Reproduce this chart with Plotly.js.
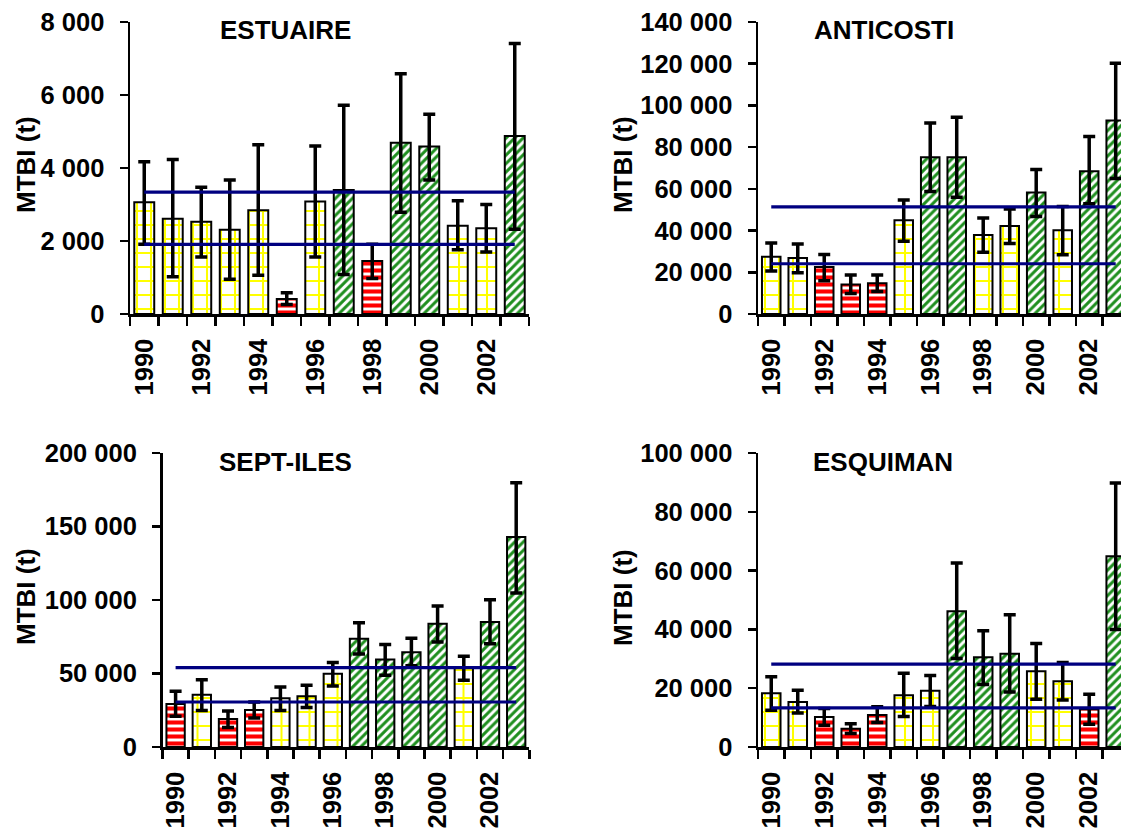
<!DOCTYPE html>
<html>
<head>
<meta charset="utf-8">
<script src="https://cdn.plot.ly/plotly-3.0.1.min.js"></script>
<style>html,body{margin:0;padding:0;background:#fff;}#chart{width:1121px;height:830px;}</style>
</head>
<body>
<div id="chart"></div>
<script>
// ---------- DATA ----------
const years = [1990,1991,1992,1993,1994,1995,1996,1997,1998,1999,2000,2001,2002,2003];
const yearLabels = [1990,1992,1994,1996,1998,2000,2002];

const est_val = [3060,2610,2530,2310,2840,410,3080,3400,1450,4690,4590,2420,2350,4880];
const est_hi  = [4170,4230,3470,3670,4640,580,4600,5720,1910,6580,5470,3100,3000,7410];
const est_lo  = [1910,1020,1560,950,1060,260,1560,1080,970,2790,3670,1760,1700,2320];
const est_cls = ['Y','Y','Y','Y','Y','R','Y','G','R','G','G','Y','Y','G'];
const est_ref = [1910,3340];

const ant_val = [27400,26800,22500,14100,14700,45000,75200,75200,37900,42200,58200,40100,68500,92800];
const ant_hi  = [34100,33600,28500,18700,18700,54700,91600,94300,46000,50300,69300,51500,85100,120200];
const ant_lo  = [20600,19800,15900,9800,10800,34900,58700,56000,29600,33800,46800,28400,52800,65000];
const ant_cls = ['Y','Y','R','R','R','Y','G','G','Y','Y','G','Y','G','G'];
const ant_ref = [24100,51400];

const sep_val = [29300,35600,19000,25200,33100,34500,49900,73700,59600,64400,83900,54000,85000,142900];
const sep_hi  = [37900,45800,24500,30600,40800,42000,57400,84600,69800,73900,95900,61700,100200,179800];
const sep_lo  = [20900,24900,13200,19700,24900,26800,41500,63300,48800,55300,71400,45400,70300,104800];
const sep_cls = ['R','Y','R','R','Y','Y','Y','G','G','G','G','Y','G','G'];
const sep_ref = [30600,54000];

const esq_val = [18300,15300,10200,6200,10900,17600,19100,46200,30500,31700,25800,22400,12800,64900];
const esq_hi  = [23900,19300,13100,7900,13700,25100,24300,62600,39500,45000,35200,28700,17900,89800];
const esq_lo  = [12500,11600,7400,4600,8300,10400,13800,30100,21300,18700,16200,16000,7700,40000];
const esq_cls = ['Y','Y','R','R','R','Y','Y','G','G','G','Y','Y','R','G'];
const esq_ref = [13300,28200];

const titles = ['ESTUAIRE','ANTICOSTI','SEPT-ILES','ESQUIMAN'];
const yTitle = 'MTBI (t)';

// ---------- STYLE ----------
const FONT = '"Liberation Sans", Arial, Helvetica, sans-serif';
const PAT = {
  Y: {shape:'+', fg:'#ffff00', size:14, sol:0.27},
  R: {shape:'-', fg:'#ff0000', size:7,  sol:0.58},
  G: {shape:'/', fg:'#1f8f1f', size:6,  sol:0.5}
};

const panels = [
  {val:est_val, hi:est_hi, lo:est_lo, cls:est_cls, ref:est_ref, ymax:8000,   dtick:2000},
  {val:ant_val, hi:ant_hi, lo:ant_lo, cls:ant_cls, ref:ant_ref, ymax:140000, dtick:20000},
  {val:sep_val, hi:sep_hi, lo:sep_lo, cls:sep_cls, ref:sep_ref, ymax:200000, dtick:50000},
  {val:esq_val, hi:esq_hi, lo:esq_lo, cls:esq_cls, ref:esq_ref, ymax:100000, dtick:20000}
];

const W = 1121, H = 830;
const geom = [
  {l:130,   r:529,  b:314, t:22,  xe:2003.5},
  {l:758,   r:1121, b:314, t:22,  xe:2003.2},
  {l:162.5, r:529.3,b:747, t:453, xe:2003.5},
  {l:758,   r:1121, b:747, t:453, xe:2003.2}
];
const titlePos = [[285,30],[884,30],[285,462],[883,462]];
const yTitlePos = [[26,165],[623,165],[26,597],[623,598]];

const boundaries = years.map(y => y - 0.5).concat([years[years.length-1] + 0.5]);

const traces = [];
const layout = {
  width: W, height: H,
  margin: {l:0, r:0, t:0, b:0},
  showlegend: false,
  paper_bgcolor: '#ffffff',
  plot_bgcolor: 'rgba(0,0,0,0)',
  separators: '. ',
  font: {family: FONT, size: 25, color: '#000', weight: 'bold'},
  annotations: []
};

panels.forEach((p, i) => {
  const n = i + 1;
  const xa = 'x' + (n === 1 ? '' : n), ya = 'y' + (n === 1 ? '' : n);
  const g = geom[i];
  traces.push({
    type: 'bar', x: years, y: p.val, xaxis: xa, yaxis: ya,
    width: 0.7,
    marker: {
      color: '#ffffff',
      line: {color: '#000', width: 2},
      pattern: {
        shape: p.cls.map(c => PAT[c].shape),
        fgcolor: p.cls.map(c => PAT[c].fg),
        bgcolor: '#ffffff',
        size: p.cls.map(c => PAT[c].size),
        solidity: p.cls.map(c => PAT[c].sol),
        fillmode: 'replace'
      }
    },
    error_y: {
      type: 'data', symmetric: false,
      array: p.hi.map((h, k) => h - p.val[k]),
      arrayminus: p.lo.map((l, k) => p.val[k] - l),
      color: '#000', thickness: 3.5, width: 6
    },
    hoverinfo: 'x+y'
  });
  p.ref.forEach(r => {
    traces.push({
      type: 'scatter', mode: 'lines',
      x: [years[0], years[years.length-1]], y: [r, r],
      xaxis: xa, yaxis: ya,
      line: {color: '#000080', width: 3.2},
      hoverinfo: 'y'
    });
  });
  const xKey = 'xaxis' + (n === 1 ? '' : n), yKey = 'yaxis' + (n === 1 ? '' : n);
  layout[xKey] = {
    domain: [g.l / W, g.r / W], anchor: ya,
    range: [years[0] - 0.5, g.xe], type: 'linear',
    showline: true, linecolor: '#000', linewidth: 2.5,
    showgrid: false, zeroline: false,
    tickmode: 'array', tickvals: yearLabels, ticktext: yearLabels.map(String),
    ticks: '', tickangle: -90, ticklabelstandoff: 12,
    tickfont: {family: FONT, size: 25.5, color: '#000', weight: 'bold'},
    minor: {tickmode: 'array', tickvals: boundaries, ticks: 'outside', ticklen: 9, tickwidth: 2.5, tickcolor: '#000', showgrid: false}
  };
  layout[yKey] = {
    domain: [1 - g.b / H, 1 - g.t / H], anchor: xa,
    range: [0, p.ymax], tick0: 0, dtick: p.dtick,
    showline: true, linecolor: '#000', linewidth: 2.5,
    showgrid: false, zeroline: false,
    ticks: 'outside', ticklen: 8, tickwidth: 2.5, tickcolor: '#000',
    tickformat: ',d', ticklabelstandoff: 10,
    tickfont: {family: FONT, size: 25.5, color: '#000', weight: 'bold'}
  };
  layout.annotations.push({
    text: titles[i], xref: 'paper', yref: 'paper',
    x: titlePos[i][0] / W, y: 1 - titlePos[i][1] / H,
    xanchor: 'center', yanchor: 'middle', showarrow: false,
    font: {family: FONT, size: 26, color: '#000', weight: 'bold'}
  });
  layout.annotations.push({
    text: yTitle, xref: 'paper', yref: 'paper',
    x: yTitlePos[i][0] / W, y: 1 - yTitlePos[i][1] / H,
    xanchor: 'center', yanchor: 'middle', showarrow: false, textangle: -90,
    font: {family: FONT, size: 26, color: '#000', weight: 'bold'}
  });
});

Plotly.newPlot('chart', traces, layout, {staticPlot: true});
</script>
</body>
</html>
